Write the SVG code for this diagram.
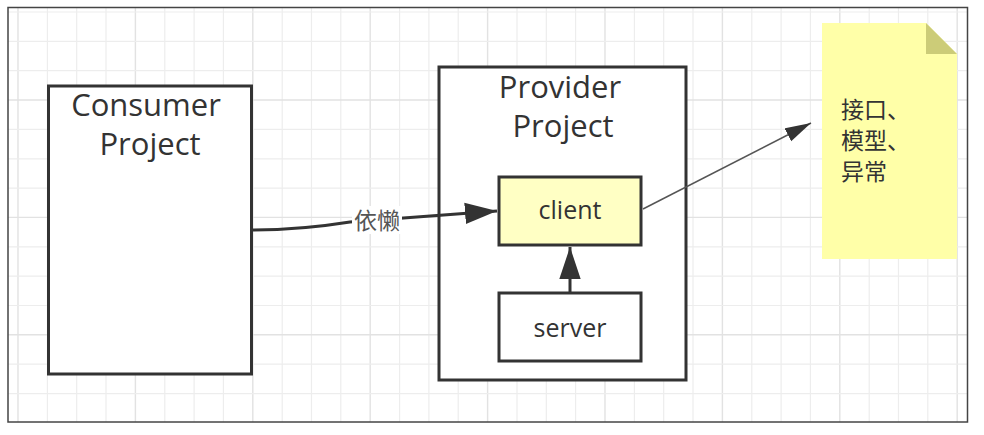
<svg xmlns="http://www.w3.org/2000/svg" width="984" height="435" viewBox="0 0 984 435">
<style>
.grid line{stroke:#ededed;stroke-width:1.2}
.grid line.major{stroke:#e2e2e2;stroke-width:1.4}
.box{fill:#fff;stroke:#333;stroke-width:3}
.box.yellow{fill:#ffffc4}
.t{font-family:"Open Sans","DejaVu Sans",sans-serif;fill:#333;text-anchor:middle}
.big{font-size:31px}
.mid{font-size:25px}
.cjk{font-family:"Noto Sans CJK SC","Open Sans",sans-serif;font-size:23px;fill:#333}
</style>
<defs>
<marker id="ah" markerUnits="userSpaceOnUse" markerWidth="32" markerHeight="22" viewBox="0 0 30 20" refX="30" refY="10" orient="auto"><path d="M0,0 L30,10 L0,20 Z" fill="#333"/></marker>
<marker id="ahs" markerUnits="userSpaceOnUse" markerWidth="26" markerHeight="16" viewBox="0 0 25 14" refX="25" refY="7" orient="auto"><path d="M0,0 L25,7 L0,14 Z" fill="#333"/></marker>
</defs>
<rect width="984" height="435" fill="#fff"/>
<g class="grid" id="grid">
<line x1="18" y1="8" x2="18" y2="422" class="major"/><line x1="47.4" y1="8" x2="47.4" y2="422"/><line x1="76.7" y1="8" x2="76.7" y2="422"/><line x1="106" y1="8" x2="106" y2="422"/>
<line x1="135.4" y1="8" x2="135.4" y2="422" class="major"/><line x1="164.8" y1="8" x2="164.8" y2="422"/><line x1="194.1" y1="8" x2="194.1" y2="422"/><line x1="223.4" y1="8" x2="223.4" y2="422"/>
<line x1="252.8" y1="8" x2="252.8" y2="422" class="major"/><line x1="282.2" y1="8" x2="282.2" y2="422"/><line x1="311.5" y1="8" x2="311.5" y2="422"/><line x1="340.8" y1="8" x2="340.8" y2="422"/>
<line x1="370.2" y1="8" x2="370.2" y2="422" class="major"/><line x1="399.6" y1="8" x2="399.6" y2="422"/><line x1="428.9" y1="8" x2="428.9" y2="422"/><line x1="458.2" y1="8" x2="458.2" y2="422"/>
<line x1="487.6" y1="8" x2="487.6" y2="422" class="major"/><line x1="517" y1="8" x2="517" y2="422"/><line x1="546.3" y1="8" x2="546.3" y2="422"/><line x1="575.6" y1="8" x2="575.6" y2="422"/>
<line x1="605" y1="8" x2="605" y2="422" class="major"/><line x1="634.4" y1="8" x2="634.4" y2="422"/><line x1="663.7" y1="8" x2="663.7" y2="422"/><line x1="693" y1="8" x2="693" y2="422"/>
<line x1="722.4" y1="8" x2="722.4" y2="422" class="major"/><line x1="751.8" y1="8" x2="751.8" y2="422"/><line x1="781.1" y1="8" x2="781.1" y2="422"/><line x1="810.4" y1="8" x2="810.4" y2="422"/>
<line x1="839.8" y1="8" x2="839.8" y2="422" class="major"/><line x1="869.2" y1="8" x2="869.2" y2="422"/><line x1="898.5" y1="8" x2="898.5" y2="422"/><line x1="927.8" y1="8" x2="927.8" y2="422"/>
<line x1="957.2" y1="8" x2="957.2" y2="422" class="major"/>
<line x1="8" y1="12" x2="967" y2="12"/><line x1="8" y1="41.4" x2="967" y2="41.4"/><line x1="8" y1="70.7" x2="967" y2="70.7"/>
<line x1="8" y1="100" x2="967" y2="100" class="major"/><line x1="8" y1="129.4" x2="967" y2="129.4"/><line x1="8" y1="158.8" x2="967" y2="158.8"/><line x1="8" y1="188.1" x2="967" y2="188.1"/>
<line x1="8" y1="217.4" x2="967" y2="217.4" class="major"/><line x1="8" y1="246.8" x2="967" y2="246.8"/><line x1="8" y1="276.2" x2="967" y2="276.2"/><line x1="8" y1="305.5" x2="967" y2="305.5"/>
<line x1="8" y1="334.8" x2="967" y2="334.8" class="major"/><line x1="8" y1="364.2" x2="967" y2="364.2"/><line x1="8" y1="393.6" x2="967" y2="393.6"/>
</g>
<rect x="8" y="7.5" width="959.5" height="414.5" fill="none" stroke="#444" stroke-width="1.5"/>
<g id="consumer">
<rect class="box" x="48.5" y="86" width="203" height="288"/>
<text class="t big" x="146" y="116">Consumer</text>
<text class="t big" x="150" y="155">Project</text>
</g>
<g id="provider">
<rect class="box" x="439" y="67" width="247" height="313"/>
<text class="t big" x="560" y="98">Provider</text>
<text class="t big" x="563" y="137">Project</text>
</g>
<g id="client">
<rect class="box yellow" x="499" y="177" width="142" height="68"/>
<text class="t mid" x="570" y="219">client</text>
</g>
<g id="server">
<rect class="box" x="499" y="293" width="142" height="68"/>
<text class="t mid" x="570" y="337">server</text>
</g>
<g id="note">
<path d="M822,23 L926,23 L957,54 L957,259 L822,259 Z" fill="#ffffa8"/>
<path d="M926,23 L957,54 L926,54 Z" fill="#cccc78"/>
<text class="cjk" x="841" y="118">接口、</text>
<text class="cjk" x="841" y="149">模型、</text>
<text class="cjk" x="841" y="180">异常</text>
</g>
<g id="connectors" fill="none" stroke="#333">
<path d="M253,230 Q300,230 350,222 L497,211" stroke-width="3" marker-end="url(#ah)"/>
<rect x="352" y="206" width="50" height="28" fill="#fff" stroke="none"/>
<text class="cjk" x="377" y="229" text-anchor="middle" stroke="none" style="font-size:23px;fill:#555">依懒</text>
<path d="M570,292 L570,247" stroke-width="3" marker-end="url(#ah)"/>
<path d="M643,209 L811,123" stroke-width="1.5" stroke="#555" marker-end="url(#ahs)"/>
</g>
</svg>
